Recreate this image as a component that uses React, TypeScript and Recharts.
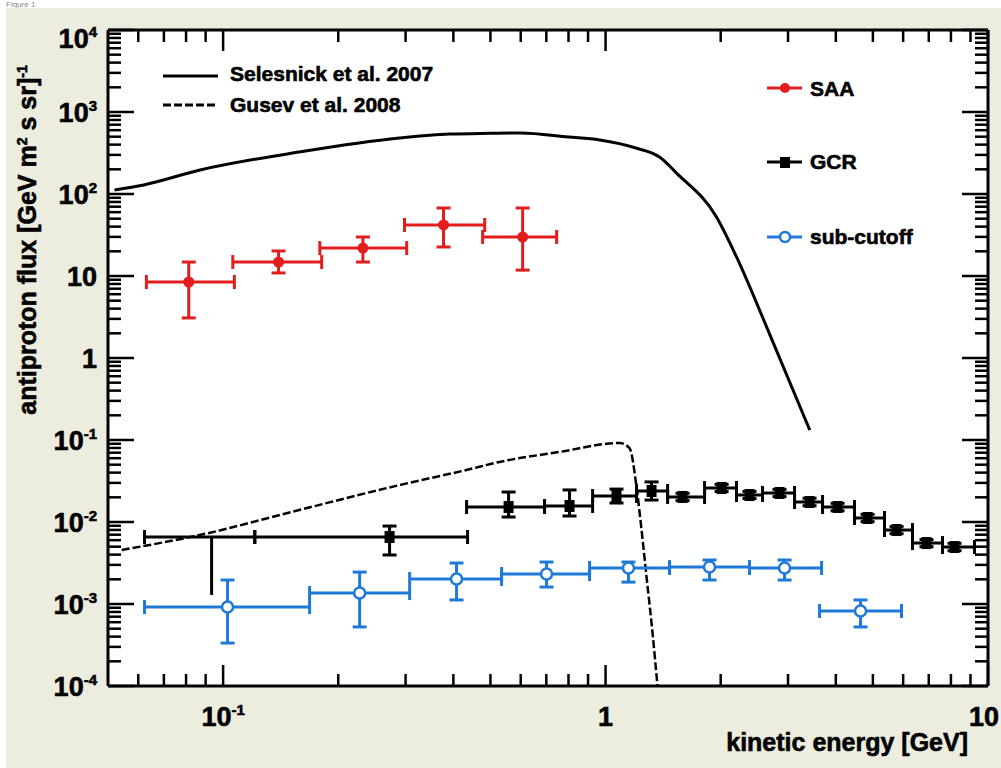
import React from 'react';
import { ComposedChart, XAxis, YAxis, Line, Scatter, ErrorBar, CartesianGrid } from 'recharts';

const FONT = "'Liberation Sans', Arial, Helvetica, sans-serif";
const RED = '#e11d1d';
const BLUE = '#1f79d6';
const BLACK = '#000';
const BEIGE = '#ecedde';

// ---- curves ----
const selesnickE = [0.052, 0.062, 0.087, 0.158, 0.289, 0.391, 0.5, 0.6, 0.8, 0.965, 1.2, 1.384, 1.533, 1.95, 2.2, 2.68, 3.42];
const selesnickFlux = [112, 129, 196, 325, 482, 539, 550, 555, 495, 456, 364, 282, 180, 52.5, 17.1, 2.0, 0.132];

const gusevE = [0.0543, 0.0868, 0.158, 0.289, 0.433, 0.528, 0.758, 1.088, 1.155, 1.205, 1.242, 1.28, 1.327, 1.367];
const gusevFlux = [0.00456, 0.00693, 0.014, 0.0282, 0.0431, 0.054, 0.0715, 0.0918, 0.0798, 0.0267, 0.00798, 0.00213, 0.000442, 0.0001];

// ---- SAA ----
const saaE = [0.0813, 0.1396, 0.232, 0.377, 0.607];
const saaElo = [0.063, 0.106, 0.179, 0.298, 0.477];
const saaEhi = [0.107, 0.181, 0.302, 0.483, 0.745];
const saaFlux = [8.45, 14.8, 21.9, 41.9, 29.9];
const saaLo = [3.08, 10.9, 14.8, 22.6, 11.8];
const saaHi = [14.8, 20.2, 29.9, 67.5, 67.5];

// ---- GCR ----
const gcrE = [0.2724, 0.5577, 0.805, 1.068, 1.319, 1.59, 2.011, 2.379, 2.85, 3.415, 4.042, 4.842, 5.766, 6.906, 8.175];
const gcrElo = [0.121, 0.4331, 0.6926, 0.925, 1.205, 1.453, 1.815, 2.2, 2.573, 3.12, 3.693, 4.477, 5.362, 6.347, 7.603];
const gcrEhi = [0.4357, 0.6926, 0.925, 1.205, 1.453, 1.815, 2.2, 2.573, 3.12, 3.693, 4.477, 5.362, 6.347, 7.603, 9.22];
const gcrFlux = [0.00656, 0.01524, 0.01567, 0.02074, 0.02388, 0.0202, 0.026, 0.02134, 0.02259, 0.01754, 0.01524, 0.01119, 0.00798, 0.00554, 0.00495];
const gcrLo = [0.00396, 0.0115, 0.01183, 0.01705, 0.01853, 0.0182, 0.0235, 0.0193, 0.0204, 0.0158, 0.0137, 0.0101, 0.0072, 0.005, 0.00447];
const gcrHi = [0.00893, 0.0232, 0.0246, 0.0252, 0.0308, 0.0224, 0.0288, 0.0236, 0.025, 0.0195, 0.0169, 0.0124, 0.0088, 0.0061, 0.0055];
// lowest-energy GCR bin (no marker, downward bar)
const gcrLimE = [0.0933];
const gcrLimElo = [0.0623];
const gcrLimEhi = [0.121];
const gcrLimFlux = [0.00656];
const gcrLimLo = [0.00129];
const gcrLimHi = [0.00656];

// ---- sub-cutoff ----
const subE = [0.1027, 0.2275, 0.4077, 0.701, 1.148, 1.87, 2.938, 4.642];
const subElo = [0.0623, 0.1683, 0.3074, 0.5347, 0.9082, 1.47, 2.379, 3.627];
const subEhi = [0.1683, 0.3074, 0.5347, 0.9082, 1.47, 2.379, 3.671, 5.941];
const subFlux = [0.000918, 0.00136, 0.00202, 0.00232, 0.00275, 0.00282, 0.00275, 0.000822];
const subLo = [0.000334, 0.000525, 0.00112, 0.00161, 0.00185, 0.00196, 0.00196, 0.000525];
const subHi = [0.00196, 0.00245, 0.00316, 0.00325, 0.00325, 0.00344, 0.00344, 0.00112];

// ---- axes ----
const xDomain = [0.05, 10];
const yDomain = [1e-4, 1e4];
const xMajorTicks = [0.1, 1, 10];
const xMajorLabels = ['10^-1', '1', '10'];
const yMajorTicks = [1e-4, 1e-3, 1e-2, 1e-1, 1, 10, 100, 1e3, 1e4];
const yMajorLabels = ['10^-4', '10^-3', '10^-2', '10^-1', '1', '10', '10^2', '10^3', '10^4'];
const minorSteps = [1, 2, 3, 4, 5, 6, 7, 8, 9];
const xTitle = 'kinetic energy [GeV]';
const curveNames = ['Selesnick et al. 2007', 'Gusev et al. 2008'];
const seriesNames = ['SAA', 'GCR', 'sub-cutoff'];

const buildTicks = (lo: number, hi: number) => {
  const out: number[] = [];
  for (let d = Math.floor(Math.log10(lo)); d <= Math.ceil(Math.log10(hi)); d++) {
    for (const m of minorSteps) {
      const v = Number((m * Math.pow(10, d)).toPrecision(6));
      if (v > lo * 1.0001 && v <= hi * 1.0001) out.push(v);
    }
  }
  return out;
};
const xTicks = buildTicks(xDomain[0], xDomain[1]);
const yTicks = [yDomain[0], ...buildTicks(yDomain[0], yDomain[1])];

const mkPts = (E: number[], Elo: number[], Ehi: number[], F: number[], lo: number[], hi: number[]) =>
  E.map((x, i) => ({ x, y: F[i], ex: [x - Elo[i], Ehi[i] - x], ey: [F[i] - lo[i], hi[i] - F[i]] }));
const mkLine = (E: number[], F: number[]) => E.map((x, i) => ({ x, y: F[i] }));

const saaData = mkPts(saaE, saaElo, saaEhi, saaFlux, saaLo, saaHi);
const gcrData = mkPts(gcrE, gcrElo, gcrEhi, gcrFlux, gcrLo, gcrHi);
const gcrLimData = mkPts(gcrLimE, gcrLimElo, gcrLimEhi, gcrLimFlux, gcrLimLo, gcrLimHi);
const subData = mkPts(subE, subElo, subEhi, subFlux, subLo, subHi);
const selesnickData = mkLine(selesnickE, selesnickFlux);
const gusevData = mkLine(gusevE, gusevFlux);

const isMajor = (v: number) => {
  const l = Math.log10(v);
  return Math.abs(l - Math.round(l)) < 1e-6;
};
const labelFor = (v: number, ticks: number[], labels: string[]) => {
  const i = ticks.findIndex((t) => Math.abs(Math.log10(t) - Math.log10(v)) < 1e-6);
  return i >= 0 ? labels[i] : null;
};

const BOLDER = { stroke: BLACK, strokeWidth: 0.6 };

const PowText = ({ x, y, label, anchor }: any) => {
  const [b, e] = label.split('^');
  return (
    <text x={x} y={y} textAnchor={anchor} fontFamily={FONT} fontWeight={700} fontSize={27} fill={BLACK} {...BOLDER}>
      {b}
      {e !== undefined && (
        <tspan dy={-11} fontSize={15}>
          {e}
        </tspan>
      )}
    </text>
  );
};

const TSW = 2.5;
const BottomTick = (p: any) => {
  const v = p.payload.value;
  const major = isMajor(v);
  const lab = labelFor(v, xMajorTicks, xMajorLabels);
  return (
    <g>
      <line x1={p.x} x2={p.x} y1={p.y} y2={p.y - (major ? 21 : 12)} stroke={BLACK} strokeWidth={TSW} />
      {lab && <PowText x={Math.min(p.x, 984)} y={p.y + 40} label={lab} anchor="middle" />}
    </g>
  );
};
const TopTick = (p: any) => {
  const major = isMajor(p.payload.value);
  return <line x1={p.x} x2={p.x} y1={p.y} y2={p.y + (major ? 21 : 12)} stroke={BLACK} strokeWidth={TSW} />;
};
const LeftTick = (p: any) => {
  const v = p.payload.value;
  const major = isMajor(v);
  const lab = labelFor(v, yMajorTicks, yMajorLabels);
  return (
    <g>
      <line x1={p.x} x2={p.x + (major ? 26 : 13)} y1={p.y} y2={p.y} stroke={BLACK} strokeWidth={TSW} />
      {lab && <PowText x={p.x - 11} y={Math.max(p.y, 38) + 10} label={lab} anchor="end" />}
    </g>
  );
};
const RightTick = (p: any) => {
  const major = isMajor(p.payload.value);
  return <line x1={p.x} x2={p.x - (major ? 26 : 13)} y1={p.y} y2={p.y} stroke={BLACK} strokeWidth={TSW} />;
};

const RedDot = (p: any) => <circle cx={p.cx} cy={p.cy} r={5.5} fill={RED} />;
const BlackSquare = (p: any) => <rect x={p.cx - 5} y={p.cy - 6} width={10} height={12} fill={BLACK} />;
const BlueRing = (p: any) => <circle cx={p.cx} cy={p.cy} r={5.5} fill="#fff" stroke={BLUE} strokeWidth={2.5} />;
const NoMarker = () => <g />;

const axisLine = { stroke: BLACK, strokeWidth: 3 };

export default function App() {
  return (
    <div style={{ position: 'absolute', left: 0, top: 0, width: 1001, height: 768, background: '#fff', overflow: 'hidden' }}>
      <svg width={1001} height={10} style={{ position: 'absolute', left: 0, top: 0 }}>
        <text x={6} y={7} fontFamily={FONT} fontSize={8} fill="#888">Figure 1</text>
      </svg>
      <div style={{ position: 'absolute', left: 6, top: 8, right: 0, bottom: 0, background: BEIGE }} />
      <div style={{ position: 'absolute', left: 0, top: 0 }}>
        <ComposedChart width={1001} height={768} margin={{ top: 29, right: 12, bottom: 0, left: 0 }}>
          <CartesianGrid xAxisId="b" yAxisId="l" fill="#fff" horizontal={false} vertical={false} />
          <XAxis
            xAxisId="b"
            dataKey="x"
            type="number"
            scale="log"
            domain={xDomain}
            allowDataOverflow
            ticks={xTicks}
            interval={0}
            tick={<BottomTick />}
            tickLine={false}
            tickSize={0}
            tickMargin={0}
            axisLine={axisLine}
            height={82}
          />
          <XAxis
            xAxisId="t"
            orientation="top"
            dataKey="x"
            type="number"
            scale="log"
            domain={xDomain}
            allowDataOverflow
            ticks={xTicks}
            interval={0}
            tick={<TopTick />}
            tickLine={false}
            tickSize={0}
            tickMargin={0}
            axisLine={axisLine}
            height={1}
          />
          <YAxis
            yAxisId="l"
            dataKey="y"
            type="number"
            scale="log"
            domain={yDomain}
            allowDataOverflow
            ticks={yTicks}
            interval={0}
            tick={<LeftTick />}
            tickLine={false}
            tickSize={0}
            tickMargin={0}
            axisLine={axisLine}
            width={108}
          />
          <YAxis
            yAxisId="r"
            orientation="right"
            dataKey="y"
            type="number"
            scale="log"
            domain={yDomain}
            allowDataOverflow
            ticks={yTicks}
            interval={0}
            tick={<RightTick />}
            tickLine={false}
            tickSize={0}
            tickMargin={0}
            axisLine={axisLine}
            width={1}
          />
          <Line
            xAxisId="b"
            yAxisId="l"
            data={selesnickData}
            dataKey="y"
            type="monotone"
            stroke={BLACK}
            strokeWidth={3}
            dot={false}
            activeDot={false}
            isAnimationActive={false}
          />
          <Line
            xAxisId="b"
            yAxisId="l"
            data={gusevData}
            dataKey="y"
            type="monotone"
            stroke={BLACK}
            strokeWidth={2.5}
            strokeDasharray="8 3"
            dot={false}
            activeDot={false}
            isAnimationActive={false}
          />
          <Scatter xAxisId="b" yAxisId="l" data={gcrLimData} dataKey="y" shape={<NoMarker />} isAnimationActive={false}>
            <ErrorBar dataKey="ex" direction="x" width={7} stroke={BLACK} strokeWidth={3} />
            <ErrorBar dataKey="ey" direction="y" width={0} stroke={BLACK} strokeWidth={3} />
          </Scatter>
          <Scatter xAxisId="b" yAxisId="l" data={saaData} dataKey="y" shape={<RedDot />} isAnimationActive={false}>
            <ErrorBar dataKey="ex" direction="x" width={7} stroke={RED} strokeWidth={3} />
            <ErrorBar dataKey="ey" direction="y" width={7} stroke={RED} strokeWidth={3} />
          </Scatter>
          <Scatter xAxisId="b" yAxisId="l" data={gcrData} dataKey="y" shape={<BlackSquare />} isAnimationActive={false}>
            <ErrorBar dataKey="ex" direction="x" width={7} stroke={BLACK} strokeWidth={3} />
            <ErrorBar dataKey="ey" direction="y" width={7} stroke={BLACK} strokeWidth={3} />
          </Scatter>
          <Scatter xAxisId="b" yAxisId="l" data={subData} dataKey="y" shape={<BlueRing />} isAnimationActive={false}>
            <ErrorBar dataKey="ex" direction="x" width={7} stroke={BLUE} strokeWidth={3} />
            <ErrorBar dataKey="ey" direction="y" width={7} stroke={BLUE} strokeWidth={3} />
          </Scatter>
        </ComposedChart>
      </div>
      <svg width={1001} height={768} style={{ position: 'absolute', left: 0, top: 0, pointerEvents: 'none' }}>
        <g fontFamily={FONT} fontWeight={700} fill={BLACK} {...BOLDER}>
          <text x={36} y={240} fontSize={25} textAnchor="middle" transform="rotate(-90 36 240)">
            antiproton flux [GeV m
            <tspan dy={-9} fontSize={14}>2</tspan>
            <tspan dy={9}> s sr]</tspan>
            <tspan dy={-9} fontSize={14}>-1</tspan>
          </text>
          <text x={968} y={751} fontSize={25} textAnchor="end">{xTitle}</text>

          <text x={230} y={81} fontSize={21}>{curveNames[0]}</text>
          <text x={230} y={112} fontSize={21}>{curveNames[1]}</text>
          <text x={810} y={96} fontSize={21}>{seriesNames[0]}</text>
          <text x={810} y={169} fontSize={21}>{seriesNames[1]}</text>
          <text x={810} y={244} fontSize={21}>{seriesNames[2]}</text>
        </g>
        <g>
          <line x1={163} x2={218} y1={76} y2={76} stroke={BLACK} strokeWidth={3} />
          <line x1={163} x2={218} y1={105} y2={105} stroke={BLACK} strokeWidth={3} strokeDasharray="8 3" />

          <line x1={767} x2={802} y1={88} y2={88} stroke={RED} strokeWidth={3} />
          <circle cx={785} cy={88} r={5} fill={RED} />

          <line x1={767} x2={802} y1={162} y2={162} stroke={BLACK} strokeWidth={3} />
          <rect x={780} y={157} width={10} height={11} fill={BLACK} />

          <line x1={767} x2={802} y1={237} y2={237} stroke={BLUE} strokeWidth={3} />
          <circle cx={785} cy={237} r={5} fill="#fff" stroke={BLUE} strokeWidth={2.5} />
        </g>
      </svg>
    </div>
  );
}
